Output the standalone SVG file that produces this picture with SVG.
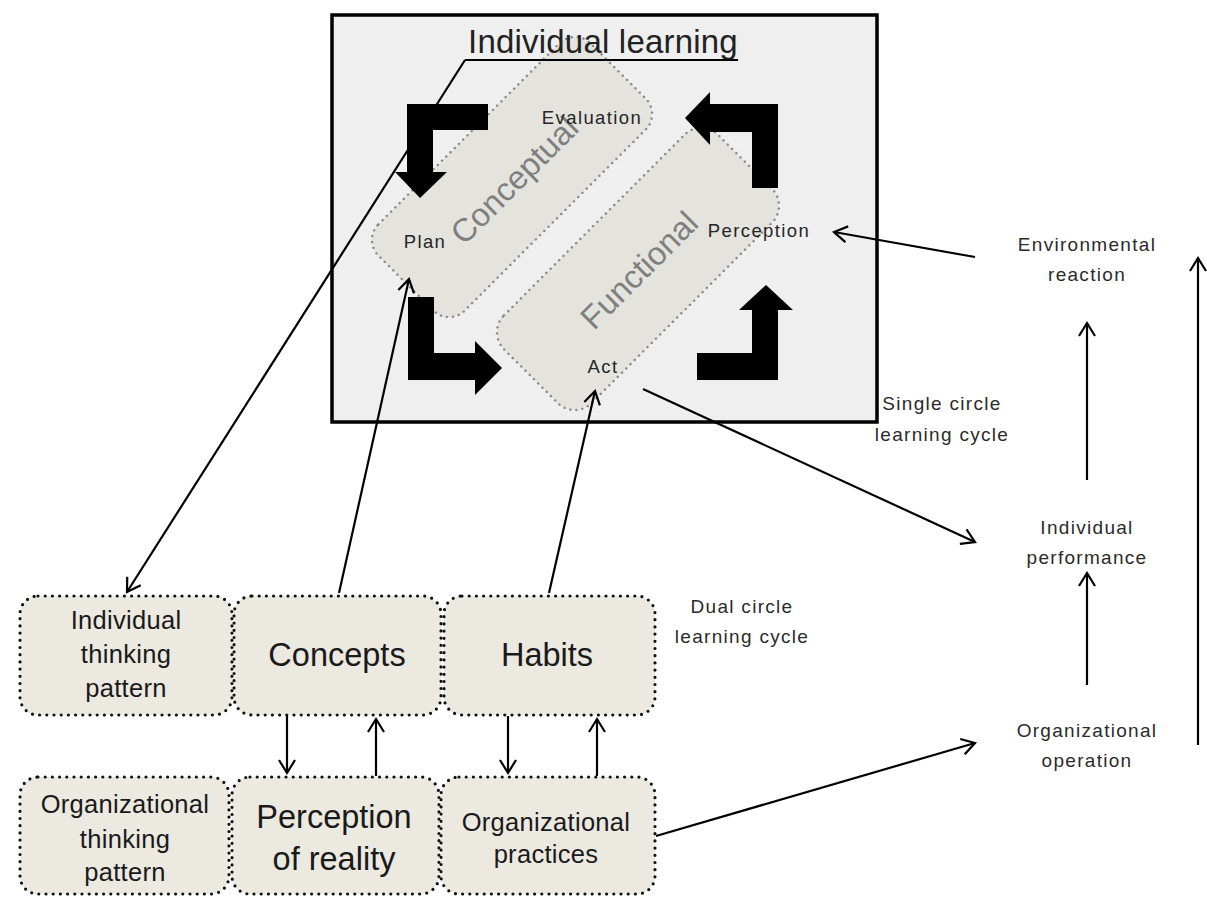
<svg xmlns="http://www.w3.org/2000/svg" width="1207" height="897" viewBox="0 0 1207 897">
  <style>
    .lbl { font-family: "Liberation Sans", Arial, sans-serif; fill: #262626; text-anchor: middle; }
    .small { font-size: 18.5px; letter-spacing: 1.4px; }
    .side { font-size: 19px; letter-spacing: 1.3px; fill: #2b2b2b; }
    .box-txt { font-size: 25.5px; letter-spacing: 0.3px; fill: #1a1a1a; }
    .box-big { font-size: 32.5px; fill: #1a1a1a; }
    .phase { font-family: "Liberation Sans", Arial, sans-serif; font-size: 32.5px; fill: #7f7f7f; text-anchor: middle; }
    .phase-box { fill: #e4e3de; stroke: #8a8a8a; stroke-width: 2.5; stroke-dasharray: 0 6; stroke-linecap: round; }
    .node { fill: #ece9e1; stroke: #111; stroke-width: 3.2; stroke-dasharray: 0 7.2; stroke-linecap: round; }
    .turn { fill: #000; }
    .wire { fill: none; stroke: #000; stroke-width: 2.2; marker-end: url(#head); }
  </style>
  <defs>
    <marker id="head" markerUnits="userSpaceOnUse" markerWidth="18" markerHeight="18" refX="15" refY="9" orient="auto" overflow="visible">
      <path d="M2,1 L15,9 L2,17" fill="none" stroke="#000" stroke-width="2.2"/>
    </marker>
  </defs>

  <rect width="1207" height="897" fill="#fff"/>

  <!-- individual learning cycle -->
  <g id="individual-learning">
    <rect x="332" y="15" width="545" height="407" fill="#efefef" stroke="#000" stroke-width="3.5"/>

    <!-- diagonal phase bands -->
    <rect class="phase-box" x="-150" y="-61" width="300" height="122" rx="22" transform="translate(512 177) rotate(-45)"/>
    <rect class="phase-box" x="-151.5" y="-62" width="303" height="124" rx="24" transform="translate(638 269) rotate(-45)"/>

    <text class="phase" transform="translate(514 180) rotate(-45)" dy="11.5">Conceptual</text>
    <text class="phase" transform="translate(639 270) rotate(-45)" dy="11.5">Functional</text>

    <!-- the four bent arrows of the cycle -->
    <polygon class="turn" points="488,104 407,104 407,172 395,172 420,198 447,172 433,172 433,130 488,130"/>
    <polygon class="turn" points="408,297 434,297 434,353 475,353 475,341 502,368 475,395 475,380 408,380"/>
    <polygon class="turn" points="697,353 752,353 752,310 739,310 766,285 793,310 778,310 778,380 697,380"/>
    <polygon class="turn" points="778,188 752,188 752,132 710,132 710,145 685,118 710,92 710,104 778,104"/>

    <text class="lbl" x="603" y="53" style="font-size:33px; letter-spacing:0.2px; fill:#222">Individual learning</text>
    <line x1="465" y1="60" x2="738" y2="60" stroke="#000" stroke-width="2"/>

    <text class="lbl small" x="592" y="124">Evaluation</text>
    <text class="lbl small" x="425" y="248">Plan</text>
    <text class="lbl small" x="759" y="237">Perception</text>
    <text class="lbl small" x="603" y="373">Act</text>
  </g>

  <!-- individual row -->
  <g id="individual-thinking-pattern">
    <rect class="node" x="20" y="596" width="212" height="119" rx="18"/>
    <text class="lbl box-txt" x="126" y="629">Individual</text>
    <text class="lbl box-txt" x="126" y="663">thinking</text>
    <text class="lbl box-txt" x="126" y="697">pattern</text>
  </g>
  <g id="concepts">
    <rect class="node" x="234" y="596" width="207" height="119" rx="18"/>
    <text class="lbl box-big" x="337" y="666">Concepts</text>
  </g>
  <g id="habits">
    <rect class="node" x="444" y="596" width="211" height="119" rx="18"/>
    <text class="lbl box-big" x="547" y="666">Habits</text>
  </g>

  <!-- organizational row -->
  <g id="organizational-thinking-pattern">
    <rect class="node" x="20" y="777" width="209" height="117" rx="18"/>
    <text class="lbl box-txt" x="125" y="813">Organizational</text>
    <text class="lbl box-txt" x="125" y="848">thinking</text>
    <text class="lbl box-txt" x="125" y="881">pattern</text>
  </g>
  <g id="perception-of-reality">
    <rect class="node" x="232" y="777" width="207" height="117" rx="18"/>
    <text class="lbl box-big" x="334" y="828">Perception</text>
    <text class="lbl box-big" x="334" y="870">of reality</text>
  </g>
  <g id="organizational-practices">
    <rect class="node" x="441" y="777" width="214" height="117" rx="18"/>
    <text class="lbl box-txt" x="546" y="831">Organizational</text>
    <text class="lbl box-txt" x="546" y="863">practices</text>
  </g>

  <!-- outcome chain -->
  <g id="environmental-reaction">
    <text class="lbl side" x="1087" y="251">Environmental</text>
    <text class="lbl side" x="1087" y="281">reaction</text>
  </g>
  <g id="individual-performance">
    <text class="lbl side" x="1087" y="534">Individual</text>
    <text class="lbl side" x="1087" y="564">performance</text>
  </g>
  <g id="organizational-operation">
    <text class="lbl side" x="1087" y="737">Organizational</text>
    <text class="lbl side" x="1087" y="767">operation</text>
  </g>

  <!-- cycle captions -->
  <g id="single-circle">
    <text class="lbl side" x="942" y="410">Single circle</text>
    <text class="lbl side" x="942" y="441">learning cycle</text>
  </g>
  <g id="dual-circle">
    <text class="lbl side" x="742" y="613">Dual circle</text>
    <text class="lbl side" x="742" y="643">learning cycle</text>
  </g>

  <!-- connectors -->
  <g id="connectors">
    <line class="wire" x1="465" y1="60" x2="127" y2="592"/>
    <line class="wire" x1="339" y1="593" x2="409" y2="279"/>
    <line class="wire" x1="549" y1="593" x2="595" y2="391"/>
    <line class="wire" x1="643" y1="389" x2="975" y2="542"/>
    <line class="wire" x1="975" y1="257" x2="834" y2="232"/>
    <line class="wire" x1="656" y1="836" x2="975" y2="743"/>
    <line class="wire" x1="287" y1="716" x2="287" y2="773"/>
    <line class="wire" x1="376" y1="776" x2="376" y2="719"/>
    <line class="wire" x1="508" y1="716" x2="508" y2="773"/>
    <line class="wire" x1="597" y1="776" x2="597" y2="719"/>
    <line class="wire" x1="1087" y1="480" x2="1087" y2="323"/>
    <line class="wire" x1="1087" y1="685" x2="1087" y2="573"/>
    <line class="wire" x1="1198" y1="745" x2="1198" y2="258"/>
  </g>
</svg>
